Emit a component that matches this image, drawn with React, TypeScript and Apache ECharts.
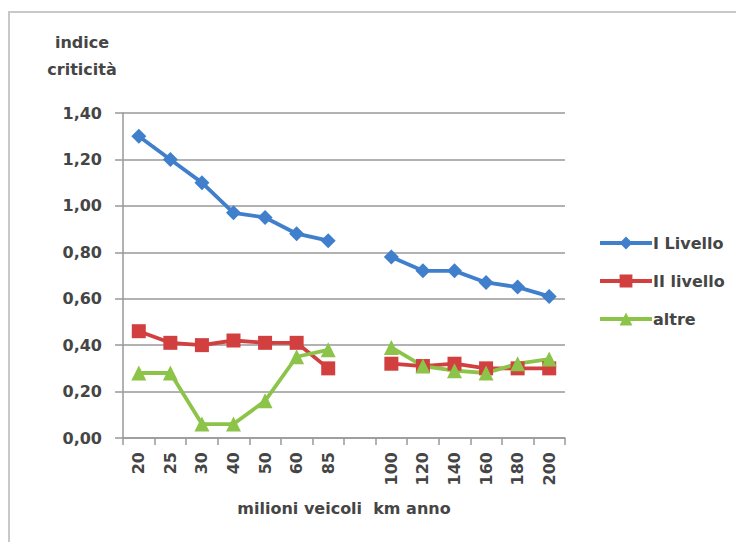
import React, { useEffect, useRef } from "react";
import * as echarts from "echarts";

const categories = ["20", "25", "30", "40", "50", "60", "85", "", "100", "120", "140", "160", "180", "200"];
const livello1 = [1.3, 1.2, 1.1, 0.97, 0.95, 0.88, 0.85, null, 0.78, 0.72, 0.72, 0.67, 0.65, 0.61];
const livello2 = [0.46, 0.41, 0.4, 0.42, 0.41, 0.41, 0.3, null, 0.32, 0.31, 0.32, 0.3, 0.3, 0.3];
const altre = [0.28, 0.28, 0.06, 0.06, 0.16, 0.35, 0.38, null, 0.39, 0.31, 0.29, 0.28, 0.32, 0.34];
const seriesNames = ["I Livello", "II livello", "altre"];
const yTitle = "indice\ncriticità";
const xTitle = "milioni veicoli  km anno";

const FONT = "DejaVu Sans";
const TEXT = "#454545";
const GRID = "#999999";

export default function App() {
  const ref = useRef<HTMLDivElement>(null);
  useEffect(() => {
    if (!ref.current) return;
    const chart = echarts.init(ref.current, undefined, { renderer: "svg" });
    const mk = (name: string, data: (number | null)[], color: string, symbol: string, size: number) => ({
      name,
      type: "line",
      data,
      symbol,
      symbolSize: size,
      connectNulls: false,
      lineStyle: { color, width: 3.8 },
      itemStyle: { color },
    });
    chart.setOption({
      animation: false,
      backgroundColor: "#ffffff",
      textStyle: { fontFamily: FONT },
      graphic: [
        {
          type: "rect",
          shape: { x: 9, y: 12, width: 780, height: 580 },
          style: { fill: "none", stroke: "#c8c8c8", lineWidth: 2 },
          silent: true,
        },
        {
          type: "text",
          x: 82,
          y: 56,
          style: {
            text: yTitle,
            fontFamily: FONT,
            fontWeight: "bold",
            fontSize: 16,
            lineHeight: 27,
            fill: TEXT,
            align: "center",
            verticalAlign: "middle",
          },
        },
      ],
      grid: { left: 123, right: 171, top: 113, bottom: 104, containLabel: false },
      legend: {
        orient: "vertical",
        left: 593,
        top: 230,
        itemWidth: 52,
        itemHeight: 16,
        itemGap: 22,
        lineStyle: { width: 4 },
        textStyle: { fontFamily: FONT, fontWeight: "bold", fontSize: 16, color: TEXT, padding: [0, 0, 0, -4] },
        data: seriesNames,
      },
      xAxis: {
        type: "category",
        data: categories,
        boundaryGap: true,
        name: xTitle,
        nameLocation: "middle",
        nameGap: 62,
        nameTextStyle: { fontFamily: FONT, fontWeight: "bold", fontSize: 16, color: TEXT },
        axisLine: { lineStyle: { color: GRID, width: 1.5 } },
        axisTick: { show: true, length: 7, lineStyle: { color: GRID, width: 1.5 } },
        axisLabel: { rotate: 90, margin: 14, fontSize: 16, fontWeight: "bold", color: TEXT, fontFamily: FONT, interval: 0 },
      },
      yAxis: {
        type: "value",
        min: 0,
        max: 1.4,
        interval: 0.2,
        axisLine: { show: true, lineStyle: { color: GRID, width: 1.5 } },
        axisTick: { show: true, length: 8, lineStyle: { color: GRID, width: 1.5 } },
        splitLine: { lineStyle: { color: GRID, width: 1.5 } },
        axisLabel: {
          margin: 21,
          fontSize: 16,
          fontWeight: "bold",
          color: TEXT,
          fontFamily: FONT,
          formatter: (v: number) => v.toFixed(2).replace(".", ","),
        },
      },
      series: [
        mk(seriesNames[0], livello1, "#3f7fcb", "diamond", 15),
        mk(seriesNames[1], livello2, "#d23f3f", "rect", 14),
        mk(seriesNames[2], altre, "#8cc449", "triangle", 15),
      ],
    });
    return () => chart.dispose();
  }, []);
  return <div ref={ref} style={{ position: "absolute", left: 0, top: 0, width: 736, height: 542 }} />;
}
